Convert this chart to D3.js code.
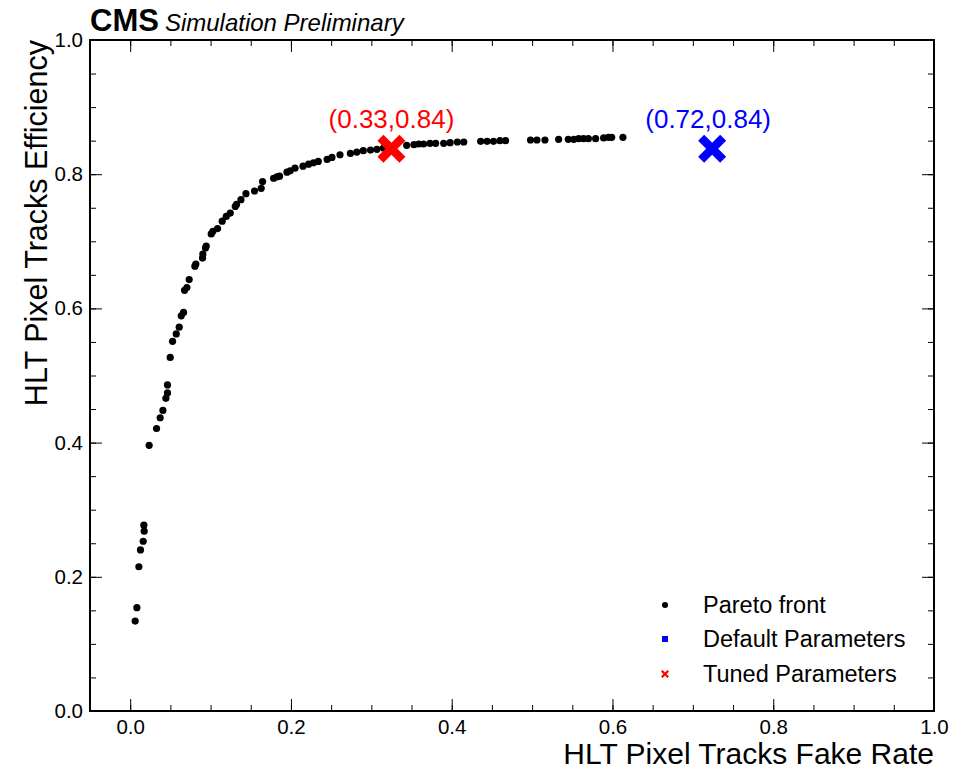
<!DOCTYPE html>
<html><head><meta charset="utf-8">
<script src="https://cdn.jsdelivr.net/npm/d3@7"></script>
<style>body{margin:0;background:#fff}svg{display:block}text{font-family:"Liberation Sans",Arial,Helvetica,sans-serif}</style>
</head><body><svg id="c" width="956" height="770"></svg>
<script>
const paretoX = [0.0062,0.0083,0.0108,0.0128,0.0162,0.0174,0.017,0.0236,0.0328,0.0373,0.0407,0.0444,0.0464,0.0464,
0.0498,0.0527,0.0573,0.061,0.0635,0.0664,0.0676,0.0705,0.0734,0.0805,0.0817,0.090,0.0904,0.0937,0.0946,0.1008,0.1029,0.1087,0.1145,0.1195,0.1245,0.1307,0.1323,0.1378,0.144,0.1547,0.163,0.1647,0.1784,0.1825,0.1858,0.195,
0.199,0.205,0.215,0.222,0.228,0.234,0.245,0.251,0.261,0.274,0.282,0.290,0.299,0.307,0.315,0.344,0.353,0.359,0.365,0.373,0.380,0.390,0.398,0.407,0.415,0.436,0.444,0.452,0.460,0.467,0.498,0.506,0.516,0.533,0.545,0.552,0.558,0.564,0.570,0.579,0.589,0.595,0.599,0.613];
const paretoY = [0.134,0.154,0.215,0.240,0.253,0.268,0.277,0.396,0.421,0.437,0.448,0.466,0.474,0.486,
0.527,0.551,0.562,0.572,0.589,0.594,0.627,0.631,0.643,0.663,0.666,0.675,0.681,0.690,0.693,0.711,0.715,0.719,0.730,0.737,0.742,0.752,0.755,0.762,0.771,0.775,0.779,0.789,0.794,0.796,0.797,0.803,
0.805,0.809,0.812,0.815,0.817,0.819,0.822,0.825,0.829,0.831,0.833,0.835,0.836,0.837,0.839,0.843,0.844,0.845,0.845,0.846,0.846,0.846,0.847,0.848,0.848,0.849,0.849,0.849,0.850,0.850,0.851,0.851,0.851,0.852,0.852,0.852,0.853,0.853,0.853,0.853,0.854,0.855,0.855,0.855];
const defaultPoint = [0.724, 0.838];
const tunedPoint = [0.325, 0.838];
const defaultLabel = "(0.72,0.84)";
const tunedLabel = "(0.33,0.84)";
const legendLabels = ["Pareto front","Default Parameters","Tuned Parameters"];
const majorTicks = [0,0.2,0.4,0.6,0.8,1.0];

const svg = d3.select("#c");
const L=90,R=934,T=40,B=711;
const x = d3.scaleLinear().domain([-0.05,1.0]).range([L,R]);
const y = d3.scaleLinear().domain([0,1.0]).range([B,T]);
const fmt = d3.format(".1f");
const minor = d3.range(-0.05,1.0001,0.05).map(v=>+v.toFixed(2));

svg.append("rect").attr("x",L).attr("y",T).attr("width",R-L).attr("height",B-T)
  .attr("fill","none").attr("stroke","#000").attr("stroke-width",2);

const ax = d3.axisBottom(x).tickValues(majorTicks).tickFormat(fmt).tickSizeInner(-12).tickSizeOuter(0).tickPadding(8);
const gx = svg.append("g").attr("transform",`translate(0,${B})`).call(ax);
gx.select(".domain").remove();
gx.selectAll("text").attr("font-size",20.5).attr("fill","#000");
const gxm = svg.append("g").attr("transform",`translate(0,${B})`).call(d3.axisBottom(x).tickValues(minor.filter(v=>v>-0.04)).tickFormat("").tickSizeInner(-6).tickSizeOuter(0));
gxm.select(".domain").remove();
const gxt = svg.append("g").attr("transform",`translate(0,${T})`).call(d3.axisTop(x).tickValues(majorTicks).tickFormat("").tickSizeInner(-12).tickSizeOuter(0));
gxt.select(".domain").remove();
const gxtm = svg.append("g").attr("transform",`translate(0,${T})`).call(d3.axisTop(x).tickValues(minor.filter(v=>v>-0.04)).tickFormat("").tickSizeInner(-6).tickSizeOuter(0));
gxtm.select(".domain").remove();

const yminor = d3.range(0,1.0001,0.05).map(v=>+v.toFixed(2));
const gy = svg.append("g").attr("transform",`translate(${L},0)`).call(d3.axisLeft(y).tickValues(majorTicks).tickFormat(fmt).tickSizeInner(-12).tickSizeOuter(0).tickPadding(7));
gy.select(".domain").remove();
gy.selectAll("text").attr("font-size",20.5).attr("fill","#000");
const gym = svg.append("g").attr("transform",`translate(${L},0)`).call(d3.axisLeft(y).tickValues(yminor).tickFormat("").tickSizeInner(-6).tickSizeOuter(0));
gym.select(".domain").remove();
const gyr = svg.append("g").attr("transform",`translate(${R},0)`).call(d3.axisRight(y).tickValues(majorTicks).tickFormat("").tickSizeInner(-12).tickSizeOuter(0));
gyr.select(".domain").remove();
const gyrm = svg.append("g").attr("transform",`translate(${R},0)`).call(d3.axisRight(y).tickValues(yminor).tickFormat("").tickSizeInner(-6).tickSizeOuter(0));
gyrm.select(".domain").remove();
svg.selectAll(".tick line").attr("stroke","#000").attr("stroke-width",1);

svg.append("text").attr("x",R).attr("y",764).attr("text-anchor","end").attr("font-size",30).text("HLT Pixel Tracks Fake Rate");
svg.append("text").attr("transform",`translate(47,${T}) rotate(-90)`).attr("text-anchor","end").attr("font-size",30.5).text("HLT Pixel Tracks Efficiency");

const cms = svg.append("text").attr("x",L).attr("y",31);
cms.append("tspan").attr("font-weight","bold").attr("font-size",31).text("CMS");
cms.append("tspan").attr("font-style","italic").attr("font-size",24).attr("dx",6).text("Simulation Preliminary");

const pts = paretoX.map((v,i)=>[v,paretoY[i]]);
svg.append("g").selectAll("circle").data(pts).join("circle")
  .attr("cx",d=>x(d[0])).attr("cy",d=>y(d[1])).attr("r",3.6).attr("fill","#000");

function xPath(s,w){
  return `M${-s},${-s+w} L${-w},0 L${-s},${s-w} L${-s+w},${s} L0,${w} L${s-w},${s} L${s},${s-w} L${w},0 L${s},${-s+w} L${s-w},${-s} L0,${-w} L${-s+w},${-s} Z`;
}
svg.append("path").attr("d",xPath(14,6)).attr("fill","#ff0000").attr("transform",`translate(${x(tunedPoint[0])},${y(tunedPoint[1])})`);
svg.append("path").attr("d",xPath(14,6)).attr("fill","#0000ff").attr("transform",`translate(${x(defaultPoint[0])},${y(defaultPoint[1])})`);
svg.append("text").attr("x",x(tunedPoint[0])).attr("y",y(tunedPoint[1])-21).attr("text-anchor","middle").attr("font-size",26).attr("fill","#ff0000").text(tunedLabel);
svg.append("text").attr("x",x(defaultPoint[0])-4).attr("y",y(defaultPoint[1])-21).attr("text-anchor","middle").attr("font-size",26).attr("fill","#0000ff").text(defaultLabel);

const lg = svg.append("g");
const ly=[605,639,674];
lg.append("circle").attr("cx",665).attr("cy",ly[0]).attr("r",3).attr("fill","#000");
lg.append("rect").attr("x",662).attr("y",ly[1]-3).attr("width",6).attr("height",6).attr("fill","#0000ff");
lg.append("path").attr("d",xPath(4,1.6)).attr("fill","#ff0000").attr("transform",`translate(665,${ly[2]})`);
legendLabels.forEach((t,i)=>lg.append("text").attr("x",703).attr("y",ly[i]+8).attr("font-size",23.5).text(t));
</script></body></html>
